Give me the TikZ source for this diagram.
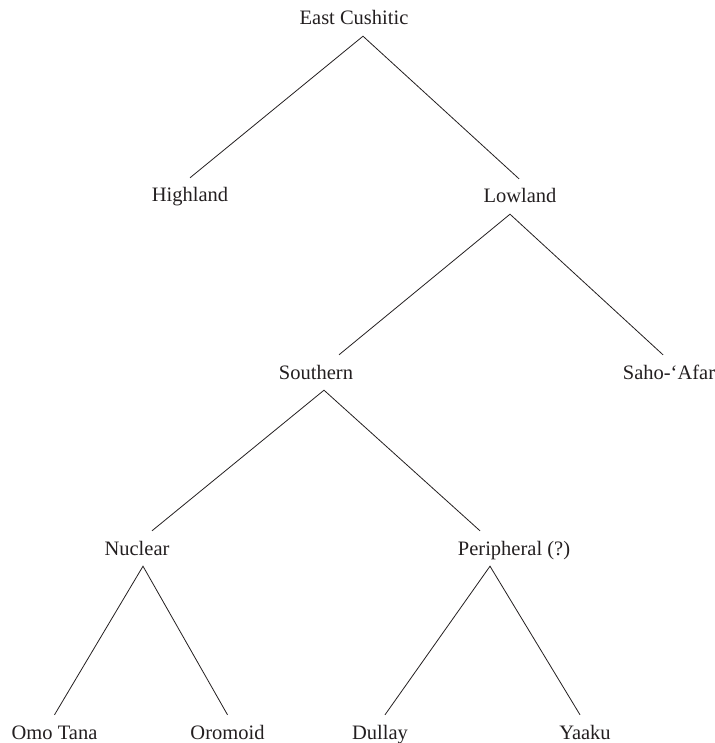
\documentclass[tikz,border=0pt]{standalone}
\usepackage{fontspec}
\setmainfont{Liberation Serif}
\definecolor{ink}{HTML}{231F20}
\begin{document}
\begin{tikzpicture}[x=1pt,y=-1pt,
  lab/.style={anchor=base,text=ink,font=\fontsize{20.5}{24}\selectfont,
    text height=16pt,text depth=3pt,inner ysep=8pt,inner xsep=0pt},
  edge/.style={draw=ink,line width=0.8pt}]
\useasboundingbox (0,0) rectangle (714,743);
\node[lab] (east) at (354,25) {East Cushitic};
\node[lab] (highland) at (190,202) {Highland};
\node[lab] (lowland) at (520,203) {Lowland};
\node[lab] (southern) at (316,379) {Southern};
\node[lab] (saho) at (669,379) {Saho-‘Afar};
\node[lab] (nuclear) at (137,555) {Nuclear};
\node[lab] (peripheral) at (514,555) {Peripheral (?)};
\node[lab] (omo) at (54.5,739) {Omo Tana};
\node[lab] (oromoid) at (227.5,739) {Oromoid};
\node[lab] (dullay) at (380,739) {Dullay};
\node[lab] (yaaku) at (585,739) {Yaaku};

\draw[edge] (highland.north) -- ([xshift=9pt]east.south) -- ([xshift=-1pt]lowland.north);
\draw[edge] ([xshift=23pt]southern.north) -- ([xshift=-10pt]lowland.south) -- ([xshift=-6pt]saho.north);
\draw[edge] ([xshift=15pt]nuclear.north) -- ([xshift=8pt]southern.south) -- ([xshift=-34pt]peripheral.north);
\draw[edge] (omo.north) -- ([xshift=6pt]nuclear.south) -- (oromoid.north);
\draw[edge] ([xshift=5pt]dullay.north) -- ([xshift=-24pt]peripheral.south) -- ([xshift=-5pt]yaaku.north);
\end{tikzpicture}
\end{document}
